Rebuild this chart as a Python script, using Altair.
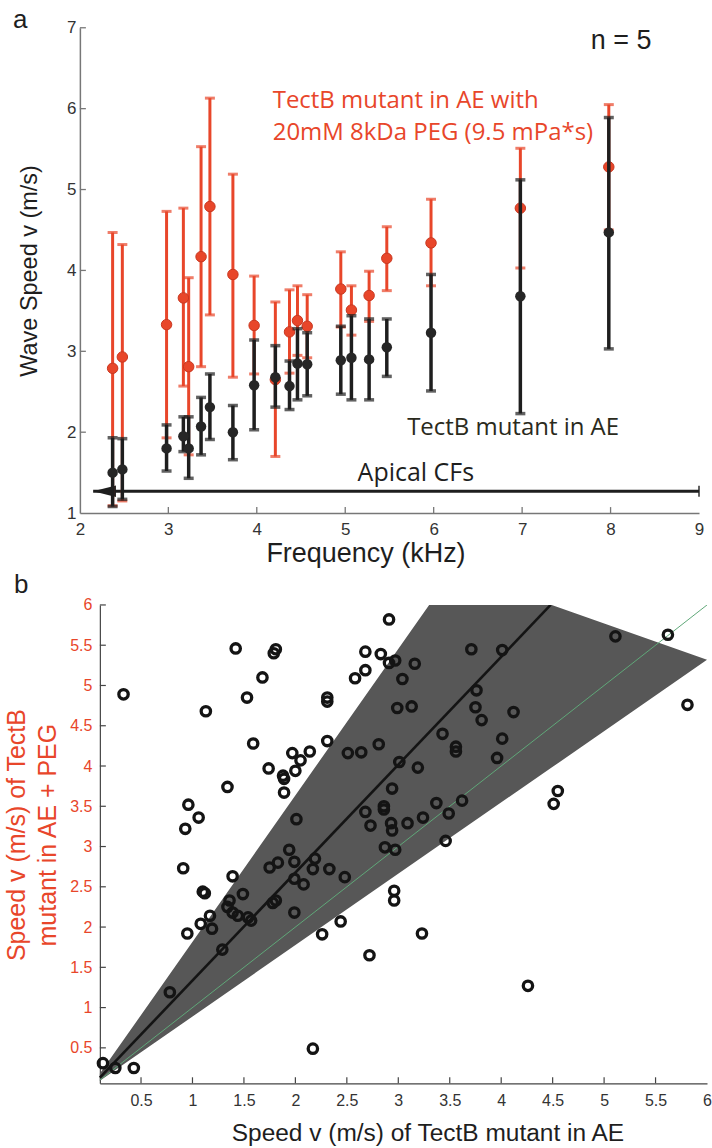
import altair as alt
import pandas as pd

# ---------------- panel a: wave speed vs frequency ----------------
freq = [2.37, 2.48, 2.98, 3.17, 3.23, 3.37, 3.47, 3.73, 3.97, 4.21,
        4.37, 4.46, 4.57, 4.95, 5.07, 5.27, 5.47, 5.97, 6.98, 7.98]
ae_mean = [1.50, 1.54, 1.80, 1.95, 1.80, 2.07, 2.31, 2.00, 2.58, 2.68,
           2.57, 2.85, 2.84, 2.89, 2.92, 2.90, 3.05, 3.23, 3.68, 4.47]
ae_hi = [1.93, 1.92, 2.09, 2.19, 2.19, 2.43, 2.72, 2.33, 3.14, 3.07,
         2.88, 3.28, 3.23, 3.31, 3.44, 3.40, 3.40, 3.95, 5.12, 5.89]
ae_lo = [1.08, 1.17, 1.52, 1.76, 1.43, 1.72, 1.91, 1.66, 2.03, 2.31,
         2.28, 2.40, 2.45, 2.47, 2.40, 2.40, 2.69, 2.51, 2.23, 3.03]
peg_mean = [2.79, 2.93, 3.33, 3.66, 2.81, 4.17, 4.79, 3.95, 3.32, 2.65,
            3.24, 3.38, 3.31, 3.77, 3.51, 3.69, 4.15, 4.34, 4.77, 5.28]
peg_hi = [4.47, 4.32, 4.73, 4.77, 3.91, 5.53, 6.13, 5.19, 3.93, 3.61,
          3.76, 3.81, 3.70, 4.23, 3.81, 3.99, 4.54, 4.88, 5.51, 6.05]
peg_lo = [1.09, 1.15, 1.93, 2.57, 1.72, 2.81, 3.45, 2.68, 2.72, 1.70,
          2.73, 2.95, 2.92, 3.30, 3.20, 3.37, 3.75, 3.81, 4.03, 4.50]

x_ticks_a = [2, 3, 4, 5, 6, 7, 8, 9]
y_ticks_a = [1, 2, 3, 4, 5, 6, 7]

arrow_start = 2.15
arrow_end = 9.0
arrow_level = 1.27

peg_label = ["TectB mutant in AE with", "20mM 8kDa PEG (9.5 mPa*s)"]
peg_label_x = 4.18
peg_label_y = [6.10, 5.70]
ae_label = "TectB mutant in AE"
ae_label_pos = (5.70, 2.05)
apical_label = "Apical CFs"
apical_label_pos = (5.14, 1.49)
n_label = "n = 5"
n_label_pos = (8.12, 6.84)

# ---------------- panel b: scatter PEG vs AE ----------------
ae_speed = [0.13, 0.25, 0.43, 0.78, 0.91, 0.95, 1.08, 1.10, 1.12, 1.17,
            1.19, 1.29, 1.36, 1.34, 1.39, 1.44, 1.54, 1.57, 1.39, 1.49,
            1.75, 1.83, 1.81, 1.78, 1.94, 1.99, 1.99, 2.08, 1.99, 2.17,
            2.19, 2.33, 2.48, 2.44, 2.26, 2.17, 2.72, 3.23, 2.96, 2.96,
            4.26, 2.87, 2.97, 3.46, 2.93, 2.94, 3.09, 3.24, 3.37, 3.49,
            3.62, 2.68, 2.73, 2.86, 2.86, 2.94, 3.01, 3.19, 2.81, 2.51,
            2.64, 3.43, 3.56, 3.56, 4.01, 3.96, 4.12, 3.75, 3.81, 3.76,
            2.99, 3.13, 3.04, 2.58, 2.68, 3.16, 2.91, 2.97, 2.68, 2.83,
            2.91, 3.71, 4.01, 5.11, 5.62, 5.81, 4.55, 4.51, 2.31, 2.31,
            2.31, 0.33, 1.42, 1.79, 1.81, 1.68, 1.53, 1.13, 1.59, 1.74,
            1.97, 2.05, 2.14, 2.00, 1.88, 1.89, 1.89, 1.34, 0.96, 1.06,
            0.93, 2.01]
peg_speed = [0.31, 0.25, 0.25, 1.19, 2.73, 1.92, 2.04, 2.44, 2.42, 2.14,
             1.98, 1.72, 2.33, 2.25, 2.18, 2.14, 2.12, 2.08, 2.63, 2.41,
             2.74, 2.80, 2.33, 2.30, 2.96, 2.81, 2.60, 2.53, 2.18, 2.72,
             2.85, 2.72, 2.62, 2.07, 1.91, 0.49, 1.65, 1.92, 2.45, 2.33,
             1.27, 2.99, 2.96, 3.07, 3.29, 3.20, 3.29, 3.36, 3.54, 3.41,
             3.57, 3.43, 3.26, 3.50, 3.46, 3.72, 4.05, 3.98, 4.27, 4.16,
             4.17, 4.40, 4.24, 4.18, 4.34, 4.10, 4.67, 4.73, 4.57, 4.94,
             4.72, 4.74, 5.08, 5.09, 5.19, 5.27, 5.28, 5.31, 5.42, 5.39,
             5.82, 5.45, 5.44, 5.61, 5.63, 4.76, 3.69, 3.53, 4.85, 4.80,
             4.31, 4.89, 5.46, 5.40, 5.45, 5.10, 4.85, 4.68, 4.28, 3.97,
             4.16, 4.07, 4.18, 3.94, 3.88, 3.84, 3.67, 3.74, 3.52, 3.36,
             3.22, 3.34]

# shaded confidence wedge, mean fit line and unity line (start at the axis corner)
cone_x = [0.10, 3.30, 4.49, 6.0]
cone_hi = [0.18, 6.0, 6.0, 5.32]
cone_lo = [0.09, 2.93, 3.98, 5.32]
fit_x = [0.10, 4.48]
fit_y = [0.13, 6.0]
unity = [0.10, 6.0]

x_ticks_b = [0.5, 1, 1.5, 2, 2.5, 3, 3.5, 4, 4.5, 5, 5.5, 6]
y_ticks_b = [0.5, 1, 1.5, 2, 2.5, 3, 3.5, 4, 4.5, 5, 5.5, 6]

# ---------------- styling ----------------
RED = "#e8462a"
DARK = "#1e1e1e"
SANS = "Liberation Sans"
HUM = "Open Sans"

W1, H1 = 620, 486
SHIFT = 20                 # panel b's axis sits 20 px right of panel a's
W2, H2 = 628, 479

xs1 = alt.Scale(domain=[2, 9], nice=False, zero=False)
ys1 = alt.Scale(domain=[1, 7], nice=False, zero=False)
xs2 = alt.Scale(domain=[0.1, 6], nice=False, zero=False, range=[SHIFT, W2])
ys2 = alt.Scale(domain=[0.06, 6], nice=False, zero=False)

ax_x1 = alt.Axis(values=x_ticks_a, ticks=False, grid=False, labelPadding=8, labelFlush=False,
                 labelFont=SANS, labelFontSize=17, labelColor="#333",
                 domainColor="#777", domainWidth=1.5,
                 title="Frequency (kHz)", titleFont=SANS, titleFontSize=27,
                 titleFontWeight="normal", titleColor=DARK, titleX=286, titleY=40,
                 titleBaseline="middle", titleAlign="center")
ax_y1 = alt.Axis(values=y_ticks_a, ticks=False, grid=False, labelPadding=4, labelFlush=False,
                 labelFont=SANS, labelFontSize=17, labelColor="#333",
                 domainColor="#777", domainWidth=1.5,
                 title="Wave Speed v (m/s)", titleFont=SANS, titleFontSize=23.5,
                 titleFontWeight="normal", titleColor=DARK, titleAngle=270,
                 titleX=-50, titleY=243, titleBaseline="middle", titleAlign="center")
ax_x2 = alt.Axis(values=x_ticks_b, format="~g", ticks=False, grid=False, labelPadding=9,
                 labelFlush=False, labelFont=SANS, labelFontSize=16, labelColor="#333",
                 domainColor="#444", domainWidth=1.2,
                 title="Speed v (m/s) of TectB mutant in AE", titleFont=SANS,
                 titleFontSize=24.5, titleFontWeight="normal", titleColor=DARK,
                 titleX=348, titleY=50, titleBaseline="middle", titleAlign="center")
ax_y2 = alt.Axis(values=y_ticks_b, format="~g", ticks=False, grid=False, labelPadding=8,
                 labelFlush=False, labelFont=SANS, labelFontSize=16, labelColor=RED,
                 domainColor="#444", domainWidth=1.2, offset=-SHIFT,
                 title=["Speed v (m/s) of TectB", "mutant in  AE + PEG"], titleFont=SANS,
                 titleFontSize=25, titleFontWeight="normal", titleColor=RED,
                 titleAngle=270, titleX=-83, titleY=230, titleBaseline="middle",
                 titleAlign="center", titleLineHeight=31)


def X1(f):
    return alt.X(f, type="quantitative", scale=xs1, axis=ax_x1)


def Y1(f):
    return alt.Y(f, type="quantitative", scale=ys1, axis=ax_y1)


def X2(f):
    return alt.X(f, type="quantitative", scale=xs2, axis=ax_x2)


def Y2(f):
    return alt.Y(f, type="quantitative", scale=ys2, axis=ax_y2)


# ---------------- panel a layers ----------------
dfa = pd.DataFrame({"f": freq, "ae": ae_mean, "ae_hi": ae_hi, "ae_lo": ae_lo,
                    "peg": peg_mean, "peg_hi": peg_hi, "peg_lo": peg_lo})
base_a = alt.Chart(dfa)

peg_bar = base_a.mark_rule(color=RED, strokeWidth=3).encode(
    x=X1("f"), y=Y1("peg_lo"), y2="peg_hi")
peg_cap_hi = base_a.mark_tick(color=RED, orient="horizontal", size=10, thickness=3).encode(
    x=X1("f"), y=Y1("peg_hi"))
peg_cap_lo = base_a.mark_tick(color=RED, orient="horizontal", size=10, thickness=3).encode(
    x=X1("f"), y=Y1("peg_lo"))
peg_pt = base_a.mark_point(shape="circle", filled=True, size=110, color=RED,
                           stroke="#c8361f", strokeWidth=1, opacity=1).encode(
    x=X1("f"), y=Y1("peg"))

ae_bar = base_a.mark_rule(color=DARK, strokeWidth=3.5).encode(
    x=X1("f"), y=Y1("ae_lo"), y2="ae_hi")
ae_cap_hi = base_a.mark_tick(color=DARK, orient="horizontal", size=10, thickness=3.5).encode(
    x=X1("f"), y=Y1("ae_hi"))
ae_cap_lo = base_a.mark_tick(color=DARK, orient="horizontal", size=10, thickness=3.5).encode(
    x=X1("f"), y=Y1("ae_lo"))
ae_pt = base_a.mark_point(shape="circle", filled=True, size=110, color="#262626",
                          opacity=1).encode(x=X1("f"), y=Y1("ae"))

arrow_df = pd.DataFrame({"x0": [arrow_start], "x1": [arrow_end], "y": [arrow_level]})
arrow_line = alt.Chart(arrow_df).mark_rule(color=DARK, strokeWidth=3).encode(
    x=X1("x0"), x2="x1", y=Y1("y"))
arrow_head = alt.Chart(arrow_df).mark_point(
    shape="M0,0L2,-0.5L2,0.5Z", size=520, filled=True, color=DARK, opacity=1).encode(
    x=X1("x0"), y=Y1("y"))
arrow_bar = alt.Chart(arrow_df).mark_tick(color=DARK, orient="vertical", size=11,
                                          thickness=2).encode(x=X1("x1"), y=Y1("y"))

peg_txt = alt.Chart(pd.DataFrame({"x": [peg_label_x] * 2, "y": peg_label_y,
                                  "t": peg_label})).mark_text(
    align="left", baseline="middle", font=HUM, fontSize=24, color=RED).encode(
    x=X1("x"), y=Y1("y"), text="t:N")
ae_txt = alt.Chart(pd.DataFrame({"x": [ae_label_pos[0]], "y": [ae_label_pos[1]],
                                 "t": [ae_label]})).mark_text(
    align="left", baseline="middle", font=HUM, fontSize=24, color="#2a2a1c").encode(
    x=X1("x"), y=Y1("y"), text="t:N")
ap_txt = alt.Chart(pd.DataFrame({"x": [apical_label_pos[0]], "y": [apical_label_pos[1]],
                                 "t": [apical_label]})).mark_text(
    align="left", baseline="middle", font=HUM, fontSize=25, color=DARK).encode(
    x=X1("x"), y=Y1("y"), text="t:N")
n_txt = alt.Chart(pd.DataFrame({"x": [n_label_pos[0]], "y": [n_label_pos[1]],
                                "t": [n_label]})).mark_text(
    align="center", baseline="middle", font=SANS, fontSize=27, color=DARK).encode(
    x=X1("x"), y=Y1("y"), text="t:N")

xt_a = alt.Chart(pd.DataFrame({"v": x_ticks_a[1:-1]})).mark_rule(color="#777", strokeWidth=1.3).encode(
    x=X1("v"), y=alt.value(H1), y2=alt.value(H1 - 6))
yt_a = alt.Chart(pd.DataFrame({"v": y_ticks_a[1:]})).mark_rule(color="#777", strokeWidth=1.3).encode(
    y=Y1("v"), x=alt.value(0), x2=alt.value(6))

lab_a = alt.Chart(pd.DataFrame({"t": ["a"]})).mark_text(
    align="left", baseline="top", font=SANS, fontSize=26, color=DARK).encode(
    x=alt.value(-67), y=alt.value(-21), text="t:N")
pad_a1 = alt.Chart(pd.DataFrame({"t": ["a"]})).mark_text(
    align="left", baseline="top", fontSize=10, opacity=0).encode(
    x=alt.value(-80), y=alt.value(-27), text="t:N")
pad_a2 = alt.Chart(pd.DataFrame({"t": ["a"]})).mark_text(
    align="left", baseline="bottom", fontSize=10, opacity=0).encode(
    x=alt.value(0), y=alt.value(H1 + 55), text="t:N")

panel_a = alt.layer(
    xt_a, yt_a, arrow_line, arrow_head, arrow_bar,
    peg_bar, peg_cap_hi, peg_cap_lo, peg_pt,
    ae_bar, ae_cap_hi, ae_cap_lo, ae_pt,
    peg_txt, ae_txt, ap_txt, n_txt, lab_a, pad_a1, pad_a2,
).properties(width=W1, height=H1)

# ---------------- panel b layers ----------------
cone_df = pd.DataFrame({"x": cone_x, "hi": cone_hi, "lo": cone_lo})
cone = alt.Chart(cone_df).mark_area(color="#575757", opacity=1, clip=True).encode(
    x=X2("x"), y=Y2("hi"), y2="lo")
unity_line = alt.Chart(pd.DataFrame({"x": unity, "y": unity})).mark_line(
    color="#5fa878", strokeWidth=1, clip=True).encode(x=X2("x"), y=Y2("y"))
fit_line = alt.Chart(pd.DataFrame({"x": fit_x, "y": fit_y})).mark_line(
    color="#141414", strokeWidth=2.6, clip=True).encode(x=X2("x"), y=Y2("y"))
pts = alt.Chart(pd.DataFrame({"ae": ae_speed, "peg": peg_speed})).mark_point(
    shape="circle", filled=False, size=88, strokeWidth=3.3, color="#141414",
    opacity=1).encode(x=X2("ae"), y=Y2("peg"))

xt_b = alt.Chart(pd.DataFrame({"v": x_ticks_b[:-1]})).mark_rule(color="#444", strokeWidth=1.2).encode(
    x=X2("v"), y=alt.value(H2), y2=alt.value(H2 - 6))
yt_b = alt.Chart(pd.DataFrame({"v": y_ticks_b})).mark_rule(color="#444", strokeWidth=1.2).encode(
    y=Y2("v"), x=alt.value(SHIFT), x2=alt.value(SHIFT + 6))

lab_b = alt.Chart(pd.DataFrame({"t": ["b"]})).mark_text(
    align="left", baseline="top", font=SANS, fontSize=26, color=DARK).encode(
    x=alt.value(-66), y=alt.value(-33), text="t:N")

panel_b = alt.layer(
    cone, unity_line, fit_line, pts, xt_b, yt_b, lab_b,
).properties(width=W2, height=H2)

chart = alt.vconcat(panel_a, panel_b, spacing=4).properties(
    padding={"left": 0, "top": 0, "right": 0, "bottom": 0},
    background="white",
).configure_view(stroke=None)

chart.save("out.html", embed_options={"renderer": "svg", "actions": False})
